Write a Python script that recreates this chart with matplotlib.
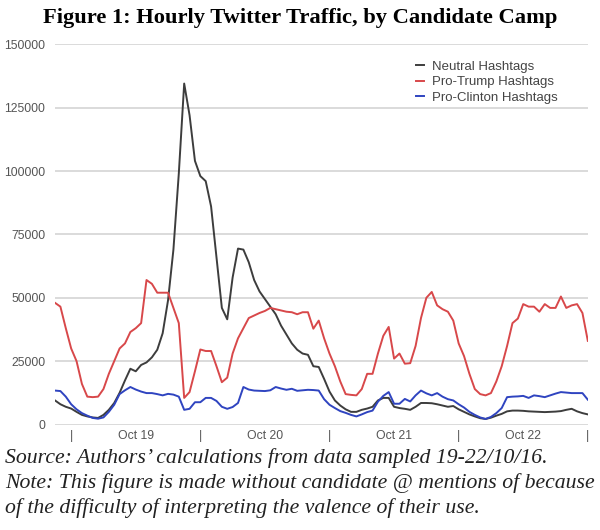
import numpy as np
import matplotlib.pyplot as plt

# hourly counts (thousands of tweets), starting ~3h before Oct 19 tick
neutral = [9.5, 8, 7, 6.3, 5, 3.8, 3.2, 2.8, 2.6, 3.8,
           5.8, 8.5, 12.5, 17.4, 22, 21, 23.5, 24.5, 26.5, 29.5,
           36, 49, 69, 99, 134.5, 122, 104, 98, 96, 86,
           66, 46, 41.5, 58, 69.4, 69, 64, 57, 52.5, 49.5,
           46.5, 43.5, 39, 35.5, 32, 29.5, 28, 27.5, 23, 22.7,
           18, 13, 9.5, 7.5, 6, 5, 5, 5.8, 6.3, 7,
           9.5, 10.5, 10.5, 7, 6.5, 6.2, 5.8, 7, 8.5, 8.5,
           8.4, 8, 7.5, 7, 7.3, 6, 5, 4, 3.2, 2.5,
           2.2, 2.7, 3.5, 4.2, 5.2, 5.5, 5.5, 5.4, 5.2, 5.1,
           5, 4.9, 5, 5.1, 5.3, 5.8, 6.2, 5.2, 4.5, 4]
trump = [48, 46.5, 38, 30, 25, 16, 11, 10.8, 11, 14,
         20, 25, 30, 32, 36.5, 38, 40, 57, 55.5, 52,
         52, 52, 46, 40, 10.5, 12.8, 21, 29.6, 29, 29,
         23, 16.7, 18.5, 28, 34, 38, 42, 43, 44, 44.8,
         46, 45.5, 45, 44.5, 44.3, 43.5, 44.3, 44.3, 37.8, 41,
         34, 28, 23, 17, 12, 11.7, 11.5, 14, 20, 20,
         28, 35, 38.5, 26, 28, 24, 24.2, 31, 42, 50,
         52.3, 47, 45.5, 44.5, 41, 32, 27, 20, 14, 12,
         11.5, 12.4, 17, 23, 31, 40, 41.8, 47.5, 46.5, 46.5,
         44.5, 47.5, 46, 46, 50.5, 46, 47, 47.5, 44, 33]
clinton = [13.4, 13.2, 11, 8, 6, 4.5, 3.5, 2.6, 2.3, 2.8,
           5, 7.8, 12, 13.5, 14.8, 13.8, 13, 12.4, 12.4, 12,
           11.5, 12.1, 11.8, 11, 5.8, 6.2, 8.8, 8.8, 10.5, 10.5,
           9.3, 7, 6.2, 6.9, 8.5, 14.8, 13.8, 13.4, 13.3, 13.2,
           13.5, 14.8, 14.2, 13.7, 14.1, 13.3, 13.5, 13.7, 13.6, 13.4,
           10, 7.8, 6.5, 5.3, 4.6, 3.8, 3.2, 4, 4.9, 5.5,
           9, 11.3, 12.8, 8.2, 8.2, 10.1, 9.1, 11.5, 13.4, 12.3,
           11.5, 12.4, 11, 10, 9.5, 8, 6.7, 5, 3.8, 2.8,
           2.2, 3, 4.5, 6.5, 10.8, 11, 11.1, 11.3, 10.5, 11.5,
           11.2, 10.8, 11.5, 12.2, 12.8, 12.6, 12.4, 12.4, 12.4, 9.8]

series_names = ['Neutral Hashtags', 'Pro-Trump Hashtags', 'Pro-Clinton Hashtags']
tick_hours = [3, 15, 27, 39, 51, 63, 75, 87, 99]
tick_labels = ['|', 'Oct 19', '|', 'Oct 20', '|', 'Oct 21', '|', 'Oct 22', '|']
y_ticks = [0, 25000, 50000, 75000, 100000, 125000, 150000]

hours = np.arange(len(neutral))

fig = plt.figure(figsize=(6, 5.3), dpi=100)
ax = fig.add_axes([0.0917, 0.199, 0.888, 0.7175])

colors = ['#3d3d3d', '#d8484a', '#2f44c0']
for vals, name, c in zip([neutral, trump, clinton], series_names, colors):
    ax.plot(hours, np.array(vals) * 1000, color=c, lw=1.4, label=name)

ax.set_xlim(0, 99)
ax.set_ylim(0, 150000)
ax.set_yticks(y_ticks)
ax.set_yticklabels([str(v) for v in y_ticks])
ax.set_xticks(tick_hours)
ax.set_xticklabels(tick_labels)
ax.tick_params(length=0, labelsize=8.8, labelcolor='#555555')
ax.tick_params(axis='y', pad=7)
ax.tick_params(axis='x', pad=4)
for lab in ax.get_xticklabels() + ax.get_yticklabels():
    lab.set_fontfamily('Liberation Sans')
ax.grid(axis='y', color='#d4d4d4', lw=1.2)
ax.set_axisbelow(True)
for s in ax.spines.values():
    s.set_visible(False)

leg = fig.legend(loc='upper left', bbox_to_anchor=(0.694, 0.886), frameon=False,
                 handlelength=0.6, handletextpad=0.6, labelspacing=0.25,
                 borderpad=0, borderaxespad=0,
                 prop={'family': 'Liberation Sans', 'size': 9.5})
for t in leg.get_texts():
    t.set_color('#444444')

fig.text(0.5, 0.966, 'Figure 1: Hourly Twitter Traffic, by Candidate Camp',
         ha='center', va='center', fontsize=16.2, fontweight='bold',
         family='Liberation Serif')
notes = ["Source: Authors\u2019 calculations from data sampled 19-22/10/16.",
         "Note: This figure is made without candidate @ mentions of because",
         "of the difficulty of interpreting the valence of their use."]
for i, line in enumerate(notes):
    fig.text(0.008, 1 - (458 + 25 * i) / 530, line, ha='left', va='center',
             fontsize=15.7, style='italic', family='Liberation Serif', color='#222222')

fig.savefig('out.png', dpi=100)
